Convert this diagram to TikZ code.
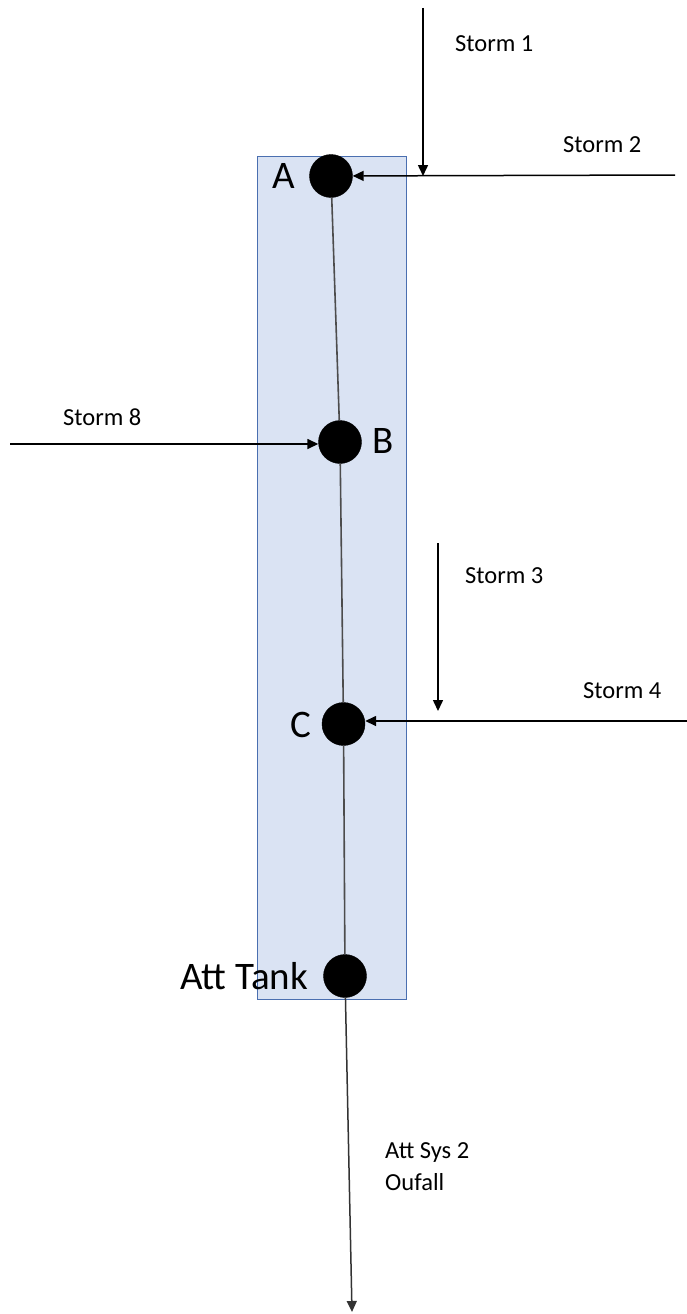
\documentclass[tikz,border=0pt]{standalone}
\usepackage{fontspec}
\setmainfont{Carlito}
\usetikzlibrary{arrows.meta}
\definecolor{boxfill}{HTML}{DAE3F3}
\definecolor{boxdraw}{HTML}{4A6FB0}
\begin{document}
\begin{tikzpicture}[x=1pt,y=-1pt,
  lbl/.style={inner sep=0pt,anchor=base west,font=\fontsize{24.5}{28}\selectfont},
  biglbl/.style={inner sep=0pt,anchor=base west,font=\fontsize{39}{44}\selectfont},
  dot/.style={circle,fill=black,draw=black,minimum size=43pt,inner sep=0pt},
  flow/.style={draw=black,line width=1.5pt,-{Triangle[length=11pt,width=10pt]}},
  pipe/.style={draw=black!70,line width=1.6pt}]
\useasboundingbox (0,0) rectangle (687,1314);
\fill[white] (0,0) rectangle (687,1314);
\node[draw=boxdraw,fill=boxfill,line width=1.2pt,minimum width=149pt,minimum height=843pt,inner sep=0pt,anchor=north west] (box) at (256.5,156) {};
\node[dot] (A) at (331,176) {};
\node[dot] (B) at (340,442) {};
\node[dot] (C) at (343.5,724) {};
\node[dot] (T) at (345,976) {};
\coordinate (out) at (352,1312);
\draw[pipe] (A) -- (B);
\draw[pipe] (B) -- (C);
\draw[pipe] (C) -- (T);
\draw[flow,draw=black!80] (T) -- (out);
% storms
\coordinate (s1a) at (423,8);
\coordinate (s1b) at (423,176);
\draw[flow] (s1a) -- (s1b);
\coordinate (s2) at (675,175);
\draw[flow] (s2) -- (A);
\coordinate (s8) at (10,444);
\draw[flow] (s8) -- (B.west |- s8);
\coordinate (s3a) at (438,543);
\coordinate (s3b) at (438,711);
\draw[flow] (s3a) -- (s3b);
\coordinate (s4) at (687,721);
\draw[flow] (s4) -- (C.east |- s4);
% labels
\node[lbl] (l1) at (455,52) {Storm 1};
\node[lbl] (l2) at (563,152) {Storm 2};
\node[lbl] (l8) at (63,425) {Storm 8};
\node[lbl] (l3) at (465,583) {Storm 3};
\node[lbl] (l4) at (583,698) {Storm 4};
\node[biglbl] (la) at (272,188) {A};
\node[biglbl] (lb) at (372,453) {B};
\node[biglbl] (lc) at (290,737) {C};
\node[biglbl] (lt) at (180,989) {Att Tank};
\node[lbl] (lo1) at (385,1158) {Att Sys 2};
\node[lbl] (lo2) at (385,1190) {Oufall};
\end{tikzpicture}
\end{document}
